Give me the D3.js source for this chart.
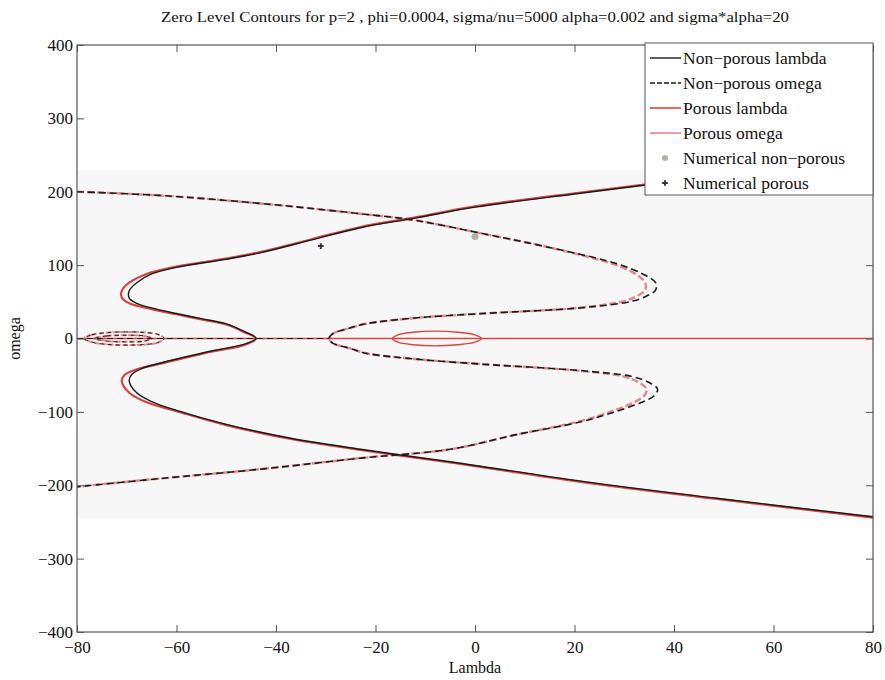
<!DOCTYPE html>
<html>
<head>
<meta charset="utf-8">
<script src="https://cdn.jsdelivr.net/npm/d3@7"></script>
<style>
  body { margin: 0; background: #fff; }
  svg { display: block; }
  svg text { font-family: "Liberation Serif", "DejaVu Serif", serif; }
</style>
</head>
<body>
<svg id="chart" width="885" height="680"></svg>
<script>
// ---- data: [lambda, omega] ----
const xTicks = [-80, -60, -40, -20, 0, 20, 40, 60, 80];
const yTicks = [-400, -300, -200, -100, 0, 100, 200, 300, 400];

// solid S-shaped lambda contours
const nonPorousLambda = [
  [80, 245], [60, 230], [40, 214], [20, 197], [0, 179], [-12, 164], [-23, 151],
  [-33, 134], [-43, 117], [-50, 108], [-60, 97], [-65, 88], [-68, 76], [-69.5, 65],
  [-69.5, 55], [-68, 48], [-64, 40], [-60, 34], [-55, 27], [-50, 20], [-46.5, 10],
  [-44, 0], [-46.5, -8], [-53, -17], [-63, -33], [-67, -41], [-69, -49], [-69.5, -58],
  [-68, -74], [-65, -86], [-60, -98], [-50, -117], [-37, -136], [-23, -151],
  [-5, -168], [0, -173], [22, -195], [49, -218], [80, -243]
];
const porousLambda = [
  [80, 246], [60, 231], [40, 215], [20, 198], [0, 180], [-12, 165], [-23, 152],
  [-33, 135], [-43, 118], [-50, 109], [-60, 98], [-66, 88], [-69.5, 76], [-71, 65],
  [-71, 56], [-69.5, 48], [-65, 40], [-60, 33], [-55, 26], [-50, 19], [-46.5, 9],
  [-44, 0], [-46.5, -9], [-53, -18], [-63, -34], [-68, -42], [-70.5, -50], [-71, -58],
  [-69.5, -74], [-66, -87], [-60, -99], [-50, -118], [-37, -137], [-23, -152],
  [-5, -169], [0, -174], [22, -196], [49, -219], [80, -244]
];

// dashed omega contours
const nonPorousOmega = [
  [-80, 200], [-63.5, 195], [-43, 184], [-23, 170], [-12, 161], [1.5, 143], [15, 124],
  [28.5, 102], [33.7, 88], [36.3, 76], [36.3, 66], [34.5, 58], [31.7, 51], [21.6, 42],
  [1.5, 34], [-12, 28], [-22, 20], [-25.3, 14], [-28.7, 6], [-29.3, 0],
  [-28.7, -6], [-25.3, -13], [-22, -20], [-12, -28], [1.5, -35], [21.6, -44],
  [31.7, -52], [35, -60], [36.7, -69], [36, -78], [33.5, -87], [29, -98],
  [21.6, -113], [8.3, -131], [-5, -151], [-23, -163], [-43, -178], [-63.5, -191], [-80, -202]
];
const porousOmega = [
  [-80, 200], [-63.5, 195], [-43, 184], [-23, 170], [-12, 161], [1.5, 143], [15, 124],
  [27.5, 102], [32.3, 88], [34.2, 76], [34.2, 66], [32.6, 58], [30, 51], [21, 42],
  [1.5, 34], [-12, 28], [-22, 20], [-25.3, 14], [-28.7, 6], [-29.3, 0],
  [-28.7, -6], [-25.3, -13], [-22, -20], [-12, -28], [1.5, -35], [21, -44],
  [30, -52], [33, -60], [34.5, -69], [34, -78], [32, -87], [28, -98],
  [21, -113], [8.3, -131], [-5, -151], [-23, -163], [-43, -178], [-63.5, -191], [-80, -202]
];
const zeroLineNonPorous = [[-80, 0], [-29.3, 0]];
const zeroLinePorous = [[-80, 0], [80, 0]];

// small closed loops on omega = 0
const leftLoopOuter = [
  [-78.6, 0], [-77, 5], [-74, 8], [-70, 9], [-66, 8], [-63.5, 5], [-62.5, 0],
  [-63.5, -5], [-66, -8], [-70, -9], [-74, -8], [-77, -5]
];
const leftLoopInner = [
  [-76.5, 0], [-74, 3.5], [-70, 4.5], [-66.5, 3.5], [-65, 0],
  [-66.5, -3.5], [-70, -4.5], [-74, -3.5]
];
const centerLoop = [
  [-16.6, 0], [-15.5, 5], [-12.5, 8.5], [-8, 10], [-3.5, 8.5], [0, 5], [1.3, 0],
  [0, -5], [-3.5, -8.5], [-8, -10], [-12.5, -8.5], [-15.5, -5]
];

// numerical points
const numNonPorous = [[0, 139]];
const numPorous = [[-31, 126]];

const legendLabels = [
  "Non\u2212porous lambda", "Non\u2212porous omega", "Porous lambda",
  "Porous omega", "Numerical non\u2212porous", "Numerical porous"
];

// ---- layout ----
const W = 885, H = 680;
const margin = { top: 45, right: 12, bottom: 48, left: 77 };
const BLACK = "#1a1a1a", RED = "#d6463f", PINK = "#e7868a", AXIS = "#555";
const SERIF = "'Liberation Serif', 'DejaVu Serif', serif";

const svg = d3.select("#chart");
const x = d3.scaleLinear().domain([-80, 80]).range([margin.left, W - margin.right]);
const y = d3.scaleLinear().domain([-400, 400]).range([H - margin.bottom, margin.top]);

// faint scan band behind the middle of the plot
svg.append("rect")
  .attr("x", x(-80)).attr("y", 170)
  .attr("width", x(80) - x(-80)).attr("height", 349)
  .attr("fill", "#f7f7f7");

const line = d3.line().x(d => x(d[0])).y(d => y(d[1])).curve(d3.curveCatmullRom);
const loop = d3.line().x(d => x(d[0])).y(d => y(d[1])).curve(d3.curveCatmullRomClosed);

const plot = svg.append("g");

function drawPath(data, gen, color, width, dash) {
  plot.append("path")
    .attr("d", gen(data))
    .attr("fill", "none")
    .attr("stroke", color)
    .attr("stroke-width", width)
    .attr("stroke-dasharray", dash || null)
    .attr("stroke-linejoin", "round");
}

// porous (red) under, non-porous (black) on top
drawPath(zeroLinePorous, line, RED, 1.3);
drawPath(porousOmega, line, PINK, 2.4, "7,3");
drawPath(porousLambda, line, RED, 2.2);
drawPath(leftLoopOuter, loop, PINK, 2, "5,2");
drawPath(leftLoopInner, loop, PINK, 2, "5,2");
drawPath(centerLoop, loop, RED, 1.4);

drawPath(zeroLineNonPorous, line, BLACK, 1.2, "6,4");
drawPath(nonPorousOmega, line, BLACK, 1.6, "7,4");
drawPath(nonPorousLambda, line, BLACK, 1.4);
drawPath(leftLoopOuter, loop, BLACK, 1, "4,4");
drawPath(leftLoopInner, loop, BLACK, 1, "4,4");

plot.selectAll(".npdot").data(numNonPorous).join("circle")
  .attr("cx", d => x(d[0])).attr("cy", d => y(d[1])).attr("r", 3.5)
  .attr("fill", "#a9b5a0");
plot.selectAll(".pplus").data(numPorous).join("path")
  .attr("d", d3.symbol(d3.symbolCross, 18))
  .attr("transform", d => `translate(${x(d[0])},${y(d[1])})`)
  .attr("fill", "#333");

// ---- axes (MATLAB box, ticks inside) ----
const fmt = d => d < 0 ? "\u2212" + Math.abs(d) : String(d);
const tickLen = 7;

function styleAxis(g) {
  g.select(".domain").remove();
  g.attr("font-family", null).attr("font-size", null);
  g.selectAll(".tick line").attr("stroke", AXIS);
  g.selectAll(".tick text")
    .style("font-family", SERIF)
    .style("font-size", "17px")
    .attr("fill", "#111");
}

svg.append("g").attr("transform", `translate(0,${y(-400)})`)
  .call(d3.axisBottom(x).tickValues(xTicks).tickSize(-tickLen).tickPadding(tickLen + 2).tickFormat(fmt))
  .call(styleAxis);
svg.append("g").attr("transform", `translate(0,${y(400)})`)
  .call(d3.axisTop(x).tickValues(xTicks).tickSize(-tickLen).tickFormat(""))
  .call(styleAxis);
svg.append("g").attr("transform", `translate(${x(-80)},0)`)
  .call(d3.axisLeft(y).tickValues(yTicks).tickSize(-tickLen).tickPadding(4).tickFormat(fmt))
  .call(styleAxis);
svg.append("g").attr("transform", `translate(${x(80)},0)`)
  .call(d3.axisRight(y).tickValues(yTicks).tickSize(-tickLen).tickFormat(""))
  .call(styleAxis);

svg.append("rect")
  .attr("x", x(-80)).attr("y", y(400))
  .attr("width", x(80) - x(-80)).attr("height", y(-400) - y(400))
  .attr("fill", "none").attr("stroke", AXIS).attr("stroke-width", 1.2);

// ---- titles ----
svg.append("text")
  .attr("x", 475).attr("y", 22)
  .attr("text-anchor", "middle")
  .style("font-size", "15.5px")
  .attr("textLength", 628).attr("lengthAdjust", "spacingAndGlyphs")
  .attr("fill", "#111")
  .text("Zero Level Contours for p=2 , phi=0.0004, sigma/nu=5000 alpha=0.002 and sigma*alpha=20");

svg.append("text")
  .attr("x", 475).attr("y", 673)
  .attr("text-anchor", "middle").style("font-size", "16px").attr("fill", "#111")
  .text("Lambda");

svg.append("text")
  .attr("transform", `translate(20,${y(0)}) rotate(-90)`)
  .attr("text-anchor", "middle").style("font-size", "16px").attr("fill", "#111")
  .text("omega");

// ---- legend ----
const legend = svg.append("g");
legend.append("rect")
  .attr("x", 645).attr("y", 43).attr("width", x(80) - 645).attr("height", 152)
  .attr("fill", "#fff").attr("stroke", AXIS).attr("stroke-width", 1);

const rowY = i => 58 + i * 25;
const sample = [
  { color: BLACK, width: 1.4 },
  { color: BLACK, width: 1.4, dash: "5,2" },
  { color: RED, width: 1.6 },
  { color: PINK, width: 1.6 }
];
sample.forEach((s, i) => {
  legend.append("line")
    .attr("x1", 650).attr("x2", 681).attr("y1", rowY(i)).attr("y2", rowY(i))
    .attr("stroke", s.color).attr("stroke-width", s.width)
    .attr("stroke-dasharray", s.dash || null);
});
legend.append("circle").attr("cx", 665).attr("cy", rowY(4)).attr("r", 3).attr("fill", "#a9b5a0");
legend.append("path")
  .attr("d", d3.symbol(d3.symbolCross, 18))
  .attr("transform", `translate(665,${rowY(5)})`).attr("fill", "#333");

legend.selectAll(".lbl").data(legendLabels).join("text")
  .attr("x", 683).attr("y", (d, i) => rowY(i) + 6)
  .style("font-size", "17.5px").attr("fill", "#111")
  .text(d => d);
</script>
</body>
</html>
